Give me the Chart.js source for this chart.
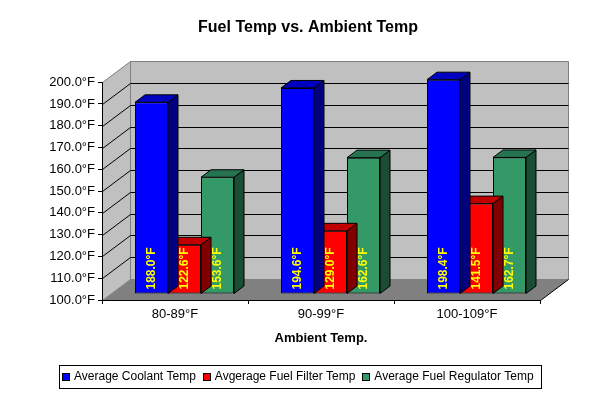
<!DOCTYPE html>
<html>
<head>
<meta charset="utf-8">
<script src="https://cdn.jsdelivr.net/npm/chart.js@4.4.1/dist/chart.umd.min.js"></script>
<style>
html,body{margin:0;padding:0;background:#fff;}
#wrap{width:616px;height:396px;position:relative;}
</style>
</head>
<body>
<div id="wrap"><canvas id="c" width="616" height="396"></canvas></div>
<script>
// ---- data ----
const categories = ['80-89°F', '90-99°F', '100-109°F'];
const coolantTemp = [188.0, 194.6, 198.4];
const fuelFilterTemp = [122.6, 129.0, 141.5];
const fuelRegulatorTemp = [153.6, 162.6, 162.7];
const seriesNames = ['Average Coolant Temp', 'Avgerage Fuel Filter Temp', 'Average Fuel Regulator Temp'];
const yTickValues = [100, 110, 120, 130, 140, 150, 160, 170, 180, 190, 200];
const chartTitle = 'Fuel Temp vs. Ambient Temp';
const xAxisTitle = 'Ambient Temp.';

// ---- styles ----
const FONT = 'Arial, "Liberation Sans", Helvetica, sans-serif';
const frontColors = ['#0000FF', '#FF0000', '#339966'];
const topColors = ['#0000C0', '#C00000', '#267350'];
const sideColors = ['#000080', '#800000', '#1A4D33'];
const WALL = { dx: 28, dy: -21 };
const BAR_SHIFT = { dx: 9.5, dy: -6 };
const BAR_DEPTH = { dx: 10, dy: -7.5 };

function poly(ctx, pts) {
  ctx.beginPath();
  ctx.moveTo(pts[0][0], pts[0][1]);
  for (let i = 1; i < pts.length; i++) ctx.lineTo(pts[i][0], pts[i][1]);
  ctx.closePath();
}

const threeD = {
  id: 'threeD',
  beforeDraw(chart) {
    const { ctx, chartArea, scales } = chart;
    const L = Math.round(chartArea.left) + 0.5, R = Math.round(chartArea.right) + 0.5;
    const T = Math.round(chartArea.top) + 0.5, B = Math.round(chartArea.bottom) + 0.5;
    const dx = WALL.dx, dy = WALL.dy;
    ctx.save();
    ctx.fillStyle = '#fff';
    ctx.fillRect(0, 0, chart.width, chart.height);
    ctx.lineWidth = 1;
    // left wall
    ctx.fillStyle = '#C0C0C0';
    ctx.strokeStyle = '#808080';
    poly(ctx, [[L, T], [L + dx, T + dy], [L + dx, B + dy], [L, B]]);
    ctx.fill(); ctx.stroke();
    // back wall
    poly(ctx, [[L + dx, T + dy], [R + dx, T + dy], [R + dx, B + dy], [L + dx, B + dy]]);
    ctx.fill(); ctx.stroke();
    // floor
    ctx.fillStyle = '#808080';
    poly(ctx, [[L, B], [L + dx, B + dy], [R + dx, B + dy], [R, B]]);
    ctx.fill();
    // gridlines on walls
    ctx.strokeStyle = '#000';
    ctx.beginPath();
    yTickValues.forEach(v => {
      if (v === yTickValues[0] || v === yTickValues[yTickValues.length - 1]) return;
      const py = Math.round(scales.y.getPixelForValue(v)) + 0.5;
      ctx.moveTo(L, py);
      ctx.lineTo(L + dx, py + dy);
      ctx.lineTo(R + dx, py + dy);
    });
    ctx.stroke();
    // floor right edge
    ctx.beginPath();
    ctx.moveTo(R, B);
    ctx.lineTo(R + dx, B + dy);
    ctx.stroke();
    ctx.restore();
  },
  beforeDatasetsDraw(chart) {
    chart.ctx.save();
    chart.ctx.translate(BAR_SHIFT.dx, BAR_SHIFT.dy);
  },
  afterDatasetDraw(chart, args) {
    const ctx = chart.ctx;
    const i = args.index;
    ctx.save();
    ctx.lineWidth = 1;
    ctx.strokeStyle = '#000';
    args.meta.data.forEach(el => {
      const p = el.getProps(['x', 'y', 'base', 'width'], true);
      const l = p.x - p.width / 2, r = p.x + p.width / 2;
      const ddx = BAR_DEPTH.dx, ddy = BAR_DEPTH.dy;
      // side face
      ctx.fillStyle = sideColors[i];
      poly(ctx, [[r, p.y], [r + ddx, p.y + ddy], [r + ddx, p.base + ddy], [r, p.base]]);
      ctx.fill(); ctx.stroke();
      // top face
      ctx.fillStyle = topColors[i];
      poly(ctx, [[l, p.y], [l + ddx, p.y + ddy], [r + ddx, p.y + ddy], [r, p.y]]);
      ctx.fill(); ctx.stroke();
    });
    ctx.restore();
  },
  afterDatasetsDraw(chart) {
    const ctx = chart.ctx;
    ctx.save();
    ctx.fillStyle = '#FFFF00';
    ctx.font = 'bold 12px ' + FONT;
    ctx.textAlign = 'left';
    ctx.textBaseline = 'middle';
    chart.data.datasets.forEach((ds, di) => {
      chart.getDatasetMeta(di).data.forEach((el, j) => {
        const p = el.getProps(['x', 'base'], true);
        ctx.save();
        ctx.translate(p.x, p.base - 4);
        ctx.rotate(-Math.PI / 2);
        ctx.fillText(ds.data[j].toFixed(1) + '°F', 0, 0);
        ctx.restore();
      });
    });
    ctx.restore();
    ctx.restore(); // undo bar shift
  },
  afterDraw(chart) {
    // legend (boxed, centred)
    const ctx = chart.ctx;
    ctx.save();
    ctx.font = '12px ' + FONT;
    const boxSize = 8, boxGap = 4, itemGap = 7;
    const widths = chart.data.datasets.map(ds => ctx.measureText(ds.label).width);
    let total = 0;
    widths.forEach((w, k) => { total += boxSize + boxGap + w + (k < widths.length - 1 ? itemGap : 0); });
    const padL = 3, padR = 7;
    const frameW = Math.round(total + padL + padR);
    const centerX = 300, centerY = 376.5;
    const frameL = Math.round(centerX - frameW / 2);
    const frameT = 365, frameH = 23;
    ctx.strokeStyle = '#000';
    ctx.lineWidth = 1;
    ctx.strokeRect(frameL + 0.5, frameT + 0.5, frameW, frameH);
    let x = frameL + padL;
    ctx.textBaseline = 'middle';
    ctx.textAlign = 'left';
    chart.data.datasets.forEach((ds, k) => {
      ctx.fillStyle = ds.backgroundColor;
      ctx.fillRect(Math.round(x), 373, boxSize, boxSize);
      ctx.strokeRect(Math.round(x) + 0.5, 373.5, boxSize - 1, boxSize - 1);
      ctx.fillStyle = '#000';
      ctx.fillText(ds.label, x + boxSize + boxGap, centerY);
      x += boxSize + boxGap + widths[k] + itemGap;
    });
    ctx.restore();
  }
};

const seriesValues = [coolantTemp, fuelFilterTemp, fuelRegulatorTemp];

new Chart(document.getElementById('c'), {
  type: 'bar',
  data: {
    labels: categories,
    datasets: seriesValues.map((vals, i) => ({
      label: seriesNames[i],
      data: vals,
      base: yTickValues[0],
      backgroundColor: frontColors[i],
      borderColor: '#000',
      borderWidth: 1,
      borderSkipped: false,
      categoryPercentage: 99 / 146,
      barPercentage: 1,
      clip: false
    }))
  },
  options: {
    responsive: false,
    animation: false,
    devicePixelRatio: 1,
    layout: { padding: { left: 0, right: 0, top: 0, bottom: 0 } },
    plugins: {
      legend: { display: false },
      tooltip: { enabled: false },
      title: {
        display: true,
        text: chartTitle,
        color: '#000',
        font: { family: FONT, size: 16, weight: 'bold' },
        padding: { top: 17.9, bottom: 45.1 }
      }
    },
    scales: {
      x: {
        offset: true,
        grid: { display: true, offset: true, drawOnChartArea: false, drawTicks: true, tickLength: 4, color: '#000' },
        border: { display: true, color: '#000', width: 1 },
        ticks: { color: '#000', font: { family: FONT, size: 13 }, padding: 3, maxRotation: 0 },
        title: {
          display: true,
          text: xAxisTitle,
          color: '#000',
          font: { family: FONT, size: 13, weight: 'bold' },
          padding: { top: 0, bottom: 50 }
        },
        afterFit(s) { s.height = 96; }
      },
      y: {
        min: yTickValues[0],
        max: yTickValues[yTickValues.length - 1],
        afterBuildTicks(s) { s.ticks = yTickValues.map(v => ({ value: v })); },
        grid: { display: true, drawOnChartArea: false, drawTicks: true, tickLength: 4, color: '#000' },
        border: { display: true, color: '#000', width: 1 },
        ticks: {
          color: '#000',
          font: { family: FONT, size: 13 },
          padding: 3,
          callback: v => Number(v).toFixed(1) + '°F'
        },
        afterFit(s) { s.width = 102; }
      },
      yRight: {
        position: 'right',
        display: true,
        grid: { display: false, drawTicks: false },
        border: { display: false },
        ticks: { display: false },
        afterFit(s) { s.width = 76; }
      }
    }
  },
  plugins: [threeD]
});
</script>
</body>
</html>
